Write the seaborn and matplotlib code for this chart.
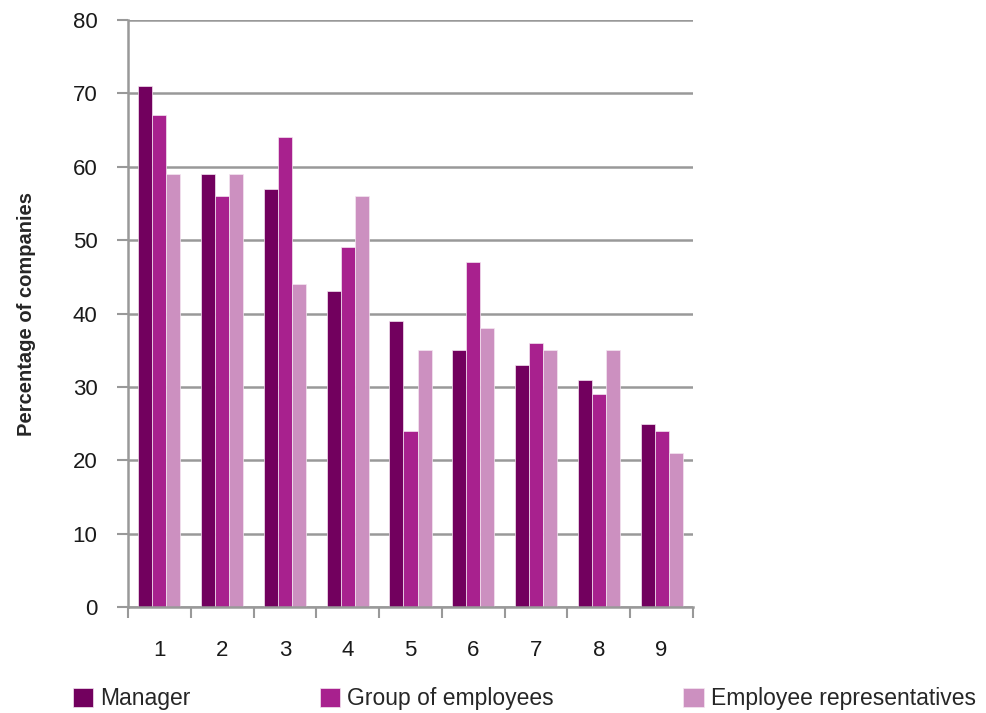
import pandas as pd
import numpy as np
import matplotlib.pyplot as plt
import seaborn as sns

# values
categories = ['1', '2', '3', '4', '5', '6', '7', '8', '9']
manager = [71, 59, 57, 43, 39, 35, 33, 31, 25]
group_of_employees = [67, 56, 64, 49, 24, 47, 36, 29, 24]
employee_reps = [59, 59, 44, 56, 35, 38, 35, 35, 21]
series_names = ['Manager', 'Group of employees', 'Employee representatives']
colors = ['#72005E', '#A8218E', '#CC90C0']

df = pd.DataFrame({
    'Category': categories * 3,
    'Series': np.repeat(series_names, len(categories)),
    'Value': manager + group_of_employees + employee_reps,
})

sns.set_style('white')
plt.rcParams['font.family'] = ['Liberation Sans', 'DejaVu Sans']
plt.rcParams['xtick.bottom'] = True
plt.rcParams['ytick.left'] = True

fig = plt.figure(figsize=(9.87, 7.13), dpi=100)
ax = fig.add_axes([0.1297, 0.1487, 0.5724, 0.8232])

sns.barplot(data=df, x='Category', y='Value', hue='Series', order=categories,
            hue_order=series_names, palette=colors, width=0.67, saturation=1,
            edgecolor='#f4e6f1', linewidth=0.5, ax=ax, legend=True)

ax.set_ylim(0, 80)
ax.set_xlim(-0.5, len(categories) - 0.5)
ax.set_yticks(range(0, 81, 10))
ax.yaxis.grid(True, color='#999999', linewidth=1.8)
ax.set_axisbelow(True)

for side in ['top', 'right']:
    ax.spines[side].set_visible(False)
for side in ['left', 'bottom']:
    ax.spines[side].set_color('#999999')
    ax.spines[side].set_linewidth(1.8)

# x ticks sit between the categories
ax.set_xticks(np.arange(-0.5, len(categories), 1.0), minor=True)
ax.tick_params(axis='x', which='minor', bottom=True, length=8, width=1.5,
               color='#999999', direction='out')
ax.tick_params(axis='x', which='major', length=0, labelsize=16, pad=24, labelcolor='#1a1a1a')
ax.tick_params(axis='y', left=True, length=8, width=1.5, color='#999999', direction='out',
               labelsize=16, pad=14, labelcolor='#1a1a1a')

ax.set_xlabel('')
ax.set_ylabel('Percentage of companies', fontsize=14.5, fontweight='bold', labelpad=26)

handles, labels = ax.get_legend_handles_labels()
ax.get_legend().remove()
fig.legend(handles, labels, loc='lower left', bbox_to_anchor=(0.062, -0.012, 0.938, 0.05),
           ncol=3, mode='expand', frameon=False, fontsize=16.5, handlelength=0.9,
           handleheight=0.9, handletextpad=0.3, borderaxespad=0.1)

plt.savefig('out.png', dpi=100)
